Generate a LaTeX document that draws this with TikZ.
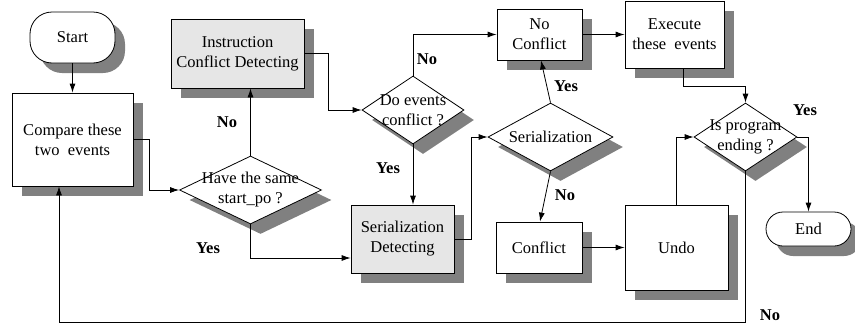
\documentclass[tikz,border=0pt]{standalone}
\usepackage{fontspec}
\setmainfont{Liberation Serif}
\usetikzlibrary{shapes.geometric,shadows,arrows.meta}
\definecolor{shadowgray}{HTML}{808080}
\definecolor{boxgray}{HTML}{E6E6E6}
\tikzset{
  shade3d/.style={drop shadow={shadow xshift=10pt,shadow yshift=-10pt,opacity=1,fill=shadowgray}},
  procbox/.style={draw,thick,fill=white,shade3d,align=center,inner sep=0pt,
    font=\fontsize{16.5}{20}\selectfont},
  grayproc/.style={procbox,fill=boxgray},
  termbox/.style={procbox,rounded corners=17pt},
  decision/.style={draw,thick,fill=white,shade3d,diamond,inner sep=0pt,aspect=1.5},
  dtext/.style={align=center,inner sep=0pt,font=\fontsize{16.5}{20}\selectfont},
  tag/.style={inner sep=0pt,font=\fontsize{16.5}{20}\selectfont\bfseries},
  flow/.style={thick,-{Latex[length=9pt,width=6pt]}},
  link/.style={thick}
}
\begin{document}
\begin{tikzpicture}[x=1pt,y=-1pt]
\useasboundingbox (0,0) rectangle (855,327);

% process boxes and terminals
\node[termbox,rounded corners=22pt,minimum width=85pt,minimum height=51pt] (start) at (72.5,37.5) {Start};
\node[procbox,minimum width=121pt,minimum height=93pt] (cmp) at (72.5,139.5) {Compare these\\two\ \ events};
\node[grayproc,minimum width=133pt,minimum height=69pt] (icd) at (237.5,53.5) {Instruction\\Conflict Detecting};
\node[grayproc,minimum width=103pt,minimum height=68pt] (sd) at (402.5,239) {Serialization\\Detecting};
\node[procbox,minimum width=85pt,minimum height=51pt] (nc) at (539.5,34.5) {No\\Conflict};
\node[procbox,minimum width=86pt,minimum height=51pt] (conf) at (539,247.5) {Conflict};
\node[procbox,minimum width=103pt,minimum height=85pt] (undo) at (676.5,247.5) {Undo};
\node[procbox,minimum width=99pt,minimum height=67pt] (exe) at (674.5,34.5) {Execute\\these\ \ events};
\node[termbox,minimum width=85pt,minimum height=34pt] (end) at (808.5,229) {End};

% decisions
\node[decision,minimum width=142pt,minimum height=68pt] (hts) at (250.5,190) {};
\node[decision,minimum width=102pt,minimum height=68pt] (dec) at (413,110) {};
\node[decision,minimum width=125pt,minimum height=68pt] (ser) at (550.5,137) {};
\node[decision,minimum width=103pt,minimum height=68pt] (ipe) at (745.5,137) {};
\node[dtext] (htsT) at (hts) {Have the same\\start\_po ?};
\node[dtext] (decT) at (dec) {Do events\\conflict ?};
\node[dtext] (serT) at (ser) {Serialization};
\node[dtext] (ipeT) at (ipe) {Is program\\ending ?};

% connectors
\draw[flow] (start) -- (cmp);
\draw[flow] (cmp.east) -- ++(16,0) |- (hts.west);
\draw[flow] (hts.north) -- (hts.north |- icd.south);
\draw[flow] (icd.east) -- ++(24,0) |- (dec.west);
\draw[flow] (hts.south) |- ([yshift=-19pt]sd.west);
\draw[flow] (dec.south) -- (dec.south |- sd.north);
\draw[flow] (dec.north) |- (nc.west);
\draw[flow] (sd.east) -- ++(17,0) |- (ser.west);
\draw[flow] (ser.north) -- ([xshift=1.5pt]nc.south);
\draw[flow] (ser.south) -- ([xshift=1pt]conf.north);
\draw[flow] (conf.east) -- (undo.west);
\draw[flow] (nc.east) -- (exe.west);
\draw[flow] ([xshift=8.5pt]exe.south) -- ++(0,18) -| (ipe.north);
\draw[flow] (undo.north) |- (ipe.west);
\draw[flow] (ipe.east) -| (end.north);
\draw[flow] (ipe.south) -- (ipe.south |- 0,322) -| ([xshift=-13.5pt]cmp.south);

% branch labels
\node[tag] (l1) at (227,122) {No};
\node[tag] (l2) at (208,248) {Yes};
\node[tag] (l3) at (427,59) {No};
\node[tag] (l4) at (388,168) {Yes};
\node[tag] (l5) at (566,86) {Yes};
\node[tag] (l6) at (565,195) {No};
\node[tag] (l7) at (805,110) {Yes};
\node[tag] (l8) at (770,315) {No};
\end{tikzpicture}
\end{document}
